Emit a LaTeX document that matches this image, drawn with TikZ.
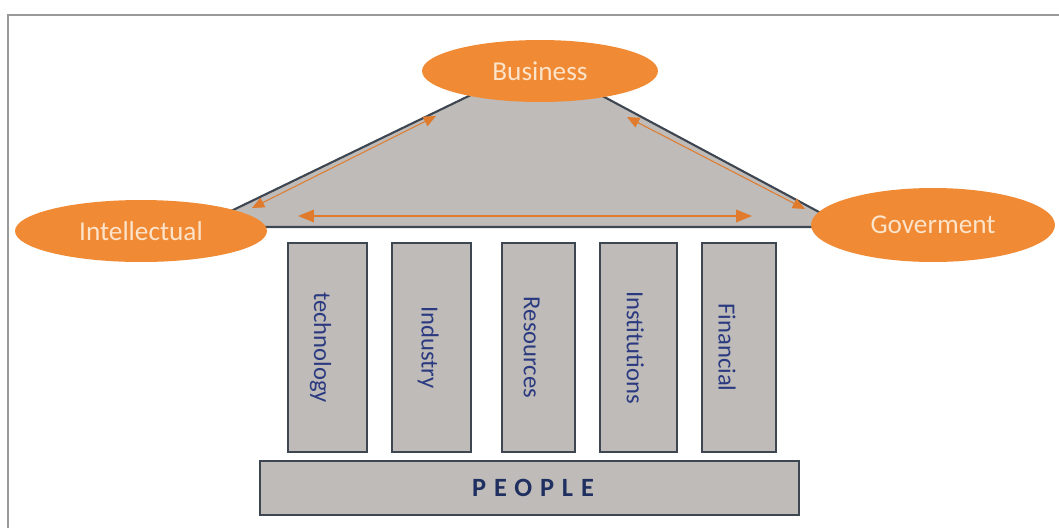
\documentclass[tikz,border=0pt]{standalone}
\usepackage{fontspec}
\setmainfont{Carlito}
\newfontfamily\spaced[LetterSpace=30]{Carlito}
\usetikzlibrary{positioning}
\usetikzlibrary{shapes.geometric,arrows.meta}

\definecolor{hubfill}{HTML}{F08A34}
\definecolor{hubtext}{HTML}{FCE3C9}
\definecolor{stone}{HTML}{BEBBB8}
\definecolor{edge}{HTML}{3E4651}
\definecolor{link}{HTML}{E07B2E}
\definecolor{navy}{HTML}{2B3A80}
\definecolor{ink}{HTML}{1F3060}

\begin{document}
\begin{tikzpicture}[
    x=0.02cm, y=-0.02cm,
    hub/.style={ellipse, fill=hubfill, text=hubtext, inner sep=0pt,
        font=\fontsize{15.5}{18}\selectfont},
    pillar/.style={draw=edge, fill=stone, line width=1.2pt, inner sep=0pt,
        minimum height=4.18cm},
    pillartext/.style={rotate=-90, text=navy, font=\fontsize{14}{16}\selectfont},
    twoway/.style={link, {Triangle[length=7pt,width=6pt]}-{Triangle[length=7pt,width=6pt]}}
]
\useasboundingbox (0,0) rectangle (1059,528);

% frame
\draw[gray!80, line width=0.9pt] (1059,15) -- (8,15) -- (8,528);

% roof
\coordinate (apex) at (539,62);
\coordinate (eaveL) at (198,227);
\coordinate (eaveR) at (847,227);
\draw[edge, fill=stone, line width=1.2pt] (eaveL) -- (apex) -- (eaveR) -- cycle;

% arrow ends inside the roof
\coordinate (iL) at (252,208);
\coordinate (iB) at (436,116);
\coordinate (gB) at (627,117);
\coordinate (gR) at (805,209);
\coordinate (hL) at (298,216);
\coordinate (hR) at (752,216);

\draw[twoway, line width=0.6pt] (iL) -- (iB);
\draw[twoway, line width=0.6pt] (gB) -- (gR);
\draw[twoway, line width=1.1pt,
    {Triangle[length=9pt,width=7pt]}-{Triangle[length=9pt,width=7pt]}] (hL) -- (hR);

% the three partners
\node[hub, minimum width=4.72cm, minimum height=1.24cm] (business) at (540,71) {Business};
\node[hub, minimum width=5.04cm, minimum height=1.24cm] (intellectual) at (141,231) {Intellectual};
\node[hub, minimum width=4.88cm, minimum height=1.48cm] (goverment) at (933,225) {Goverment};

% pillars
\node[pillar, minimum width=1.58cm] (tech) at (327.5,347.5) {};
\node[pillar, minimum width=1.58cm, right=0.46cm of tech] (ind) {};
\node[pillar, minimum width=1.46cm, right=0.58cm of ind] (res) {};
\node[pillar, minimum width=1.54cm, right=0.46cm of res] (inst) {};
\node[pillar, minimum width=1.48cm, right=0.46cm of inst] (fin) {};

\node[pillartext] at ([xshift=-4pt]tech.center) {technology};
\node[pillartext] at ([xshift=-2pt]ind.center) {Industry};
\node[pillartext] at ([xshift=-4pt]res.center) {Resources};
\node[pillartext] at ([xshift=-2pt]inst.center) {Institutions};
\node[pillartext] at ([xshift=-7pt]fin.center) {Financial};

% base
\node[pillar, minimum width=10.78cm, minimum height=1.08cm] (people) at (529.5,488) {};
\node[text=ink, font=\spaced\bfseries\fontsize{15}{18}\selectfont] at ([xshift=2pt]people.center) {PEOPLE};

\end{tikzpicture}
\end{document}
